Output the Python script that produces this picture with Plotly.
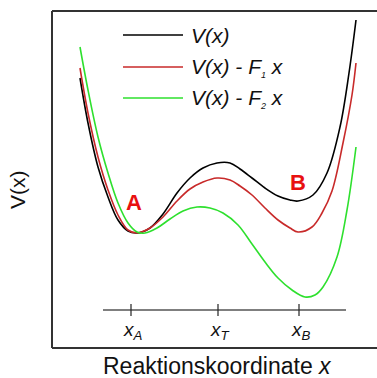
import plotly.graph_objects as go

# Reaction coordinate samples (chart units) and potential values V (chart units, up = higher energy)
x_black = [80, 88, 98, 108, 118, 128, 137, 150, 163, 177, 190, 203, 217, 230, 240, 252, 265, 278, 290, 298, 313, 327, 340, 349, 356]
v_black = [300, 255, 211, 181, 158, 147, 145, 150, 164, 185, 200, 210, 215, 215, 209, 200, 190, 182, 178, 177, 183, 205, 251, 305, 358]

x_red = [80, 88, 98, 108, 118, 128, 137, 150, 163, 177, 190, 203, 217, 230, 240, 252, 265, 278, 290, 298, 312, 322, 332, 343, 352, 356]
v_red = [310, 265, 221, 188, 163, 148, 145, 150, 161, 177, 189, 196, 200, 198, 192, 183, 170, 158, 150, 146, 151, 165, 187, 235, 283, 315]

x_green = [80, 88, 98, 108, 118, 128, 137, 145, 157, 170, 183, 197, 210, 223, 238, 252, 265, 278, 292, 305, 315, 323, 337, 347, 356]
v_green = [331, 288, 241, 205, 175, 155, 146, 145, 150, 159, 167, 171, 170, 165, 153, 134, 116, 100, 88, 81, 83, 91, 121, 168, 231]

# Reaction coordinate ticks on the inner axis
tick_pos = [131, 218, 299]
tick_labels = ["<i>x<sub>A</sub></i>", "<i>x<sub>T</sub></i>", "<i>x<sub>B</sub></i>"]

SUB = '<sub><span style="font-size:9px">{}</span></sub>'
legend_labels = ["<i>V(x)</i>",
                 "<i>V(x) - F" + SUB.format("1") + " x</i>",
                 "<i>V(x) - F" + SUB.format("2") + " x</i>"]
colors = ["#000000", "#c82a2a", "#2ee02e"]

FONT = "Liberation Sans, Arial, sans-serif"
H = 378

fig = go.Figure()
for xs, vs, c in [(x_black, v_black, colors[0]), (x_red, v_red, colors[1]), (x_green, v_green, colors[2])]:
    fig.add_trace(go.Scatter(x=xs, y=vs, mode="lines",
                             line=dict(color=c, width=1.6, shape="spline", smoothing=1.0),
                             showlegend=False, hoverinfo="skip"))

shapes = []
# frame (left, top, bottom)
shapes.append(dict(type="line", x0=52, x1=52, y0=H - 11, y1=H - 348, line=dict(color="#333333", width=2)))
shapes.append(dict(type="line", x0=52, x1=380, y0=H - 11, y1=H - 11, line=dict(color="#333333", width=2)))
shapes.append(dict(type="line", x0=52, x1=380, y0=H - 348, y1=H - 348, line=dict(color="#333333", width=2)))
# inner axis
shapes.append(dict(type="line", x0=103, x1=346, y0=H - 310, y1=H - 310, line=dict(color="#555555", width=1.5)))
for t in tick_pos:
    shapes.append(dict(type="line", x0=t, x1=t, y0=H - 304, y1=H - 316, line=dict(color="#222222", width=1.2)))
# legend lines
legend_y = [35, 67, 98]
for ly, c in zip(legend_y, colors):
    shapes.append(dict(type="line", x0=123, x1=183, y0=H - ly, y1=H - ly, line=dict(color=c, width=1.6)))

annotations = []
for ly, lab in zip(legend_y, legend_labels):
    annotations.append(dict(x=189, y=H - ly, text=lab, showarrow=False, xanchor="left", yanchor="middle",
                            font=dict(family=FONT, size=21, color="#111111")))
for t, lab in zip(tick_pos, tick_labels):
    annotations.append(dict(x=t + 2, y=H - 331, text=lab, showarrow=False, xanchor="center", yanchor="middle",
                            font=dict(family=FONT, size=19, color="#111111")))
annotations.append(dict(x=217, y=H - 366, text="Reaktionskoordinate <i>x</i>", showarrow=False,
                        xanchor="center", yanchor="middle", font=dict(family=FONT, size=23, color="#111111")))
annotations.append(dict(x=17, y=H - 190, text="V(x)", showarrow=False, textangle=-90,
                        xanchor="center", yanchor="middle", font=dict(family=FONT, size=21, color="#111111")))
annotations.append(dict(x=134, y=H - 202, text="<b>A</b>", showarrow=False, xanchor="center", yanchor="middle",
                        font=dict(family=FONT, size=22, color="#e81010")))
annotations.append(dict(x=298, y=H - 182, text="<b>B</b>", showarrow=False, xanchor="center", yanchor="middle",
                        font=dict(family=FONT, size=22, color="#e81010")))

fig.update_layout(width=377, height=378, autosize=False, margin=dict(l=0, r=0, t=0, b=0),
                  paper_bgcolor="white", plot_bgcolor="white",
                  xaxis=dict(range=[0, 377], visible=False, fixedrange=True),
                  yaxis=dict(range=[0, 378], visible=False, fixedrange=True),
                  shapes=shapes, annotations=annotations, showlegend=False)
fig.write_html("out.html", config={"displayModeBar": False})
